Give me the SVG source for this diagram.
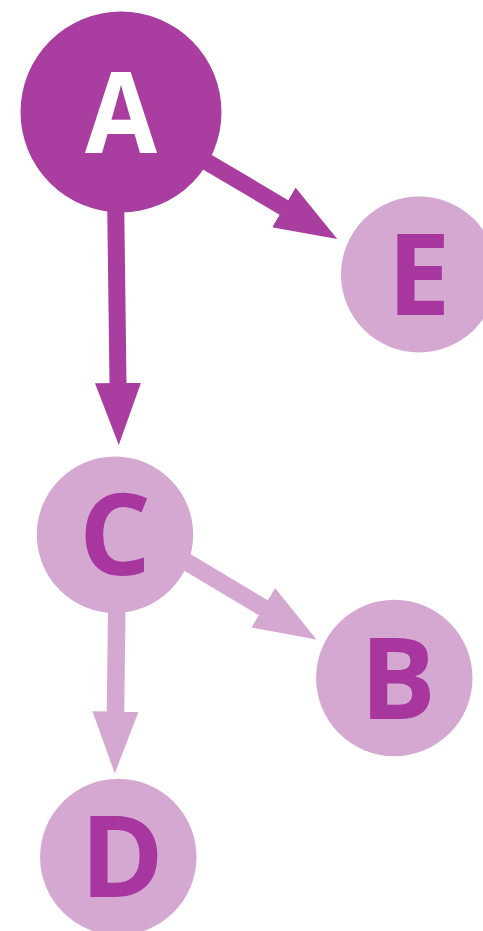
<svg xmlns="http://www.w3.org/2000/svg" width="483" height="931" viewBox="0 0 483 931">
  <style>
    .dark { fill: #a93da0; }
    .light { fill: #d5a8d2; }
    .lbl { font-family: "Open Sans", "Liberation Sans", sans-serif; font-weight: 700; font-size: 113px; text-anchor: middle; }
    .lbl-w { fill: #ffffff; }
    .lbl-d { fill: #a8369f; }
    .edge-dark { stroke: #a93da0; stroke-width: 17; fill: none; stroke-linecap: butt; }
    .edge-light { stroke: #d5a8d2; stroke-width: 17.5; fill: none; stroke-linecap: butt; }
  </style>
  <defs>
    <marker id="head-dark" markerUnits="userSpaceOnUse" markerWidth="62" markerHeight="46" viewBox="0 0 62 46" refX="0.5" refY="23" orient="auto">
      <path d="M0,0 L62,23 L0,46 Z" fill="#a93da0"/>
    </marker>
    <marker id="head-light" markerUnits="userSpaceOnUse" markerWidth="62" markerHeight="46" viewBox="0 0 62 46" refX="0.5" refY="23" orient="auto">
      <path d="M0,0 L62,23 L0,46 Z" fill="#d5a8d2"/>
    </marker>
  </defs>
  <rect width="483" height="931" fill="#ffffff"/>
  <g id="connectors">
    <line class="edge-dark" x1="115.5" y1="190" x2="118" y2="383.5" marker-end="url(#head-dark)"/>
    <line class="edge-dark" x1="190" y1="152" x2="284.3" y2="207.7" marker-end="url(#head-dark)"/>
    <line class="edge-light" x1="117" y1="590" x2="115.5" y2="712" marker-end="url(#head-light)"/>
    <line class="edge-light" x1="175" y1="555" x2="263.7" y2="608" marker-end="url(#head-light)"/>
  </g>
  <g id="node-A">
    <circle class="dark" cx="121" cy="112" r="100.5"/>
    <text class="lbl lbl-w" x="121" y="153" textLength="72" lengthAdjust="spacingAndGlyphs">A</text>
  </g>
  <g id="node-E">
    <circle class="light" cx="419" cy="274.5" r="78"/>
    <text class="lbl lbl-d" x="419" y="315">E</text>
  </g>
  <g id="node-C">
    <circle class="light" cx="115" cy="534.7" r="78.2"/>
    <text class="lbl lbl-d" x="115" y="575">C</text>
  </g>
  <g id="node-B">
    <circle class="light" cx="394.3" cy="678" r="78.2"/>
    <text class="lbl lbl-d" x="398" y="719">B</text>
  </g>
  <g id="node-D">
    <circle class="light" cx="118.3" cy="857" r="78.2"/>
    <text class="lbl lbl-d" x="122" y="897">D</text>
  </g>
</svg>
